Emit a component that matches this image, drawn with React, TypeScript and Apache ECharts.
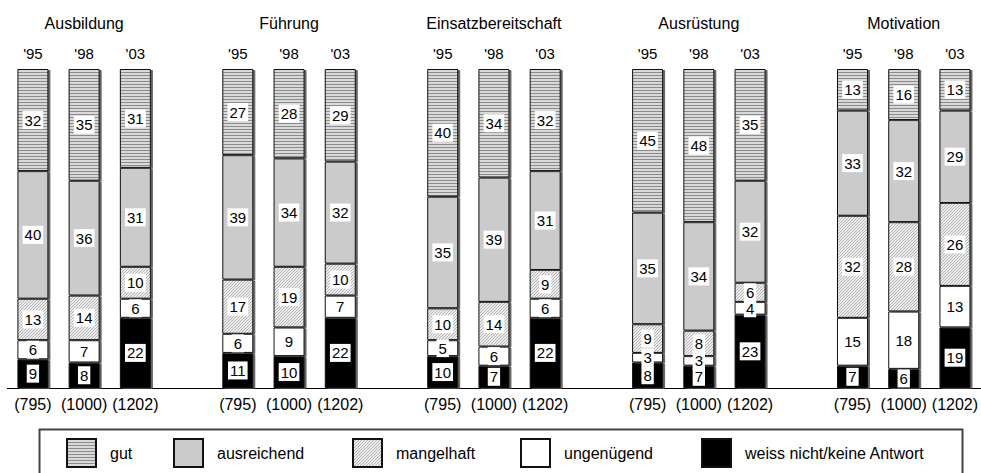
import React, { useEffect, useRef } from "react";
import * as echarts from "echarts";

const groups = ["Ausbildung", "Führung", "Einsatzbereitschaft", "Ausrüstung", "Motivation"];
const years = ["'95", "'98", "'03"];
const sampleSizes = ["(795)", "(1000)", "(1202)"];

// values per group: '95, '98, '03
const gut = [32, 35, 31, 27, 28, 29, 40, 34, 32, 45, 48, 35, 13, 16, 13];
const ausreichend = [40, 36, 31, 39, 34, 32, 35, 39, 31, 35, 34, 32, 33, 32, 29];
const mangelhaft = [13, 14, 10, 17, 19, 10, 10, 14, 9, 9, 8, 6, 32, 28, 26];
const ungenuegend = [6, 7, 6, 6, 9, 7, 5, 6, 6, 3, 3, 4, 15, 18, 13];
const weissNicht = [9, 8, 22, 11, 10, 22, 10, 7, 22, 8, 7, 23, 7, 6, 19];

const FONT = "'Liberation Sans', Arial, Helvetica, sans-serif";

function withGaps<T>(values: T[], gap: T): T[] {
  const out: T[] = [];
  values.forEach((v, i) => {
    if (i > 0 && i % 3 === 0) out.push(gap);
    out.push(v);
  });
  return out;
}

const yearCats = withGaps(groups.flatMap(() => years), "");
const sizeCats = withGaps(groups.flatMap(() => sampleSizes), "");
const titleCats = withGaps(
  groups.flatMap((g) => ["", g, ""]),
  ""
);

function makePattern(size: number, bg: string, fg: string, isOn: (x: number, y: number) => boolean) {
  const c = document.createElement("canvas");
  c.width = size;
  c.height = size;
  const ctx = c.getContext("2d")!;
  ctx.fillStyle = bg;
  ctx.fillRect(0, 0, size, size);
  ctx.fillStyle = fg;
  for (let y = 0; y < size; y++) {
    for (let x = 0; x < size; x++) {
      if (isOn(x, y)) ctx.fillRect(x, y, 1, 1);
    }
  }
  return { image: c, repeat: "repeat" };
}

export default function App() {
  const ref = useRef<HTMLDivElement>(null);
  useEffect(() => {
    if (!ref.current) return;
    const chart = echarts.init(ref.current, undefined, { renderer: "svg" });

    const gutFill = makePattern(6, "#d9d9d9", "#8c8c8c", (x, y) => y % 3 === 0);
    const mangelFill = makePattern(6, "#ececec", "#b4b4b4", (x, y) => (x + y) % 3 === 0);

    const baseItem = {
      borderColor: "#111",
      borderWidth: 1,
      shadowColor: "rgba(70,70,70,0.85)",
      shadowOffsetX: 2,
      shadowOffsetY: 1,
      shadowBlur: 0,
    };
    const label = {
      show: true,
      position: "inside",
      color: "#000",
      backgroundColor: "#fff",
      padding: [1, 2, 0, 2],
      fontSize: 15,
      lineHeight: 17,
      fontFamily: FONT,
      formatter: (p: any) => (p.value == null ? "" : String(p.value)),
    };

    const seriesDefs: { name: string; data: number[]; color: any }[] = [
      { name: "weiss nicht/keine Antwort", data: weissNicht, color: "#000000" },
      { name: "ungenügend", data: ungenuegend, color: "#ffffff" },
      { name: "mangelhaft", data: mangelhaft, color: mangelFill },
      { name: "ausreichend", data: ausreichend, color: "#cbcbcb" },
      { name: "gut", data: gut, color: gutFill },
    ];

    const series = seriesDefs.map((s) => ({
      type: "bar",
      name: s.name,
      stack: "total",
      barWidth: 31,
      xAxisIndex: 0,
      yAxisIndex: 0,
      data: withGaps<number | null>(s.data, null),
      itemStyle: { ...baseItem, color: s.color },
      label,
    }));

    const legendLefts = [66, 173, 352, 520, 701];
    const legendNames = ["gut", "ausreichend", "mangelhaft", "ungenügend", "weiss nicht/keine Antwort"];

    chart.setOption({
      animation: false,
      backgroundColor: "#ffffff",
      grid: { left: 7.3, top: 69, width: 975.9, height: 319, containLabel: false },
      xAxis: [
        {
          type: "category",
          position: "bottom",
          data: sizeCats,
          axisLine: { show: true, lineStyle: { color: "#000", width: 1 } },
          axisTick: { show: false },
          axisLabel: {
            interval: 0,
            hideOverlap: false,
            margin: 8,
            color: "#000",
            fontSize: 16,
            fontFamily: FONT,
          },
        },
        {
          type: "category",
          position: "top",
          data: yearCats,
          axisLine: { show: false },
          axisTick: { show: false },
          axisLabel: {
            interval: 0,
            hideOverlap: false,
            margin: 8,
            color: "#000",
            fontSize: 15,
            fontFamily: FONT,
          },
        },
        {
          type: "category",
          position: "top",
          data: titleCats,
          axisLine: { show: false },
          axisTick: { show: false },
          axisLabel: {
            interval: 0,
            hideOverlap: false,
            margin: 38,
            color: "#000",
            fontSize: 16,
            fontFamily: FONT,
          },
        },
      ],
      yAxis: { type: "value", min: 0, max: 100, show: false },
      legend: legendNames.map((n, i) => ({
        data: [n],
        left: legendLefts[i],
        top: 438,
        padding: 0,
        icon: "rect",
        itemWidth: 29,
        itemHeight: 28,
        selectedMode: false,
        textStyle: { color: "#000", fontSize: 16, fontFamily: FONT, padding: [0, 0, 0, 9] },
      })),
      graphic: [
        {
          type: "rect",
          shape: { x: 39.5, y: 429.5, width: 923, height: 60 },
          style: { fill: "none", stroke: "#444", lineWidth: 2 },
          silent: true,
        },
      ],
      series,
    });
    return () => chart.dispose();
  }, []);
  return (
    <div
      ref={ref}
      style={{ position: "fixed", left: 0, top: 0, width: 981, height: 473 }}
    />
  );
}
